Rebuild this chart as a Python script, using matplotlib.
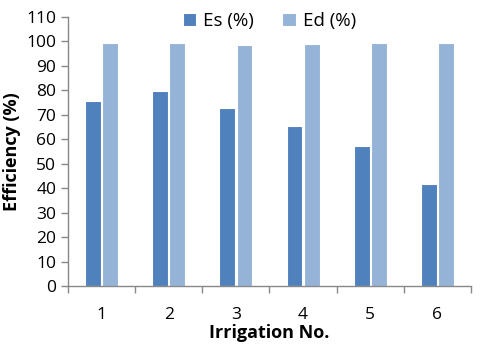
import numpy as np
import matplotlib.pyplot as plt

plt.rcParams["font.family"] = ["Open Sans", "DejaVu Sans"]

# Data
irrigations = ["1", "2", "3", "4", "5", "6"]
es = [75.7, 79.8, 72.8, 65.4, 57.3, 41.7]
ed = [99.4, 99.3, 98.6, 98.9, 99.3, 99.3]

fig = plt.figure(figsize=(4.8, 3.48), dpi=100)
ax = fig.add_axes([68 / 480, 1 - 286 / 348, 403 / 480, 269 / 348])

x = np.arange(len(irrigations))
w = 0.235
ax.bar(x - 0.127, es, w, color="#4F81BD", edgecolor="white", linewidth=0.8, label="Es (%)")
ax.bar(x + 0.127, ed, w, color="#95B3D7", edgecolor="white", linewidth=0.8, label="Ed (%)")

ax.set_xlim(-0.5, len(irrigations) - 0.5)
ax.set_ylim(0, 110)
ax.set_yticks(range(0, 111, 10))
ax.set_xticks(x)
ax.set_xticklabels(irrigations)
ax.set_xticks(np.arange(-0.5, len(irrigations), 1), minor=True)
ax.tick_params(axis="x", which="major", length=0, labelsize=12.5, pad=15)
ax.tick_params(axis="x", which="minor", length=5, color="#888888", width=1)
ax.tick_params(axis="y", length=5, color="#888888", width=1, labelsize=12.5)

for s in ["top", "right"]:
    ax.spines[s].set_visible(False)
for s in ["left", "bottom"]:
    ax.spines[s].set_color("#888888")
    ax.spines[s].set_linewidth(1)

ax.set_xlabel("Irrigation No.", fontsize=13, fontweight="bold", labelpad=1)
ax.set_ylabel("Efficiency (%)", fontsize=13, fontweight="bold", labelpad=4)

ax.legend(loc="upper center", bbox_to_anchor=(0.5, 1.08), ncol=2, frameon=False,
          fontsize=13.5, handlelength=0.7, handleheight=0.7, columnspacing=1.5,
          handletextpad=0.4)

fig.savefig("out.png", dpi=100)
